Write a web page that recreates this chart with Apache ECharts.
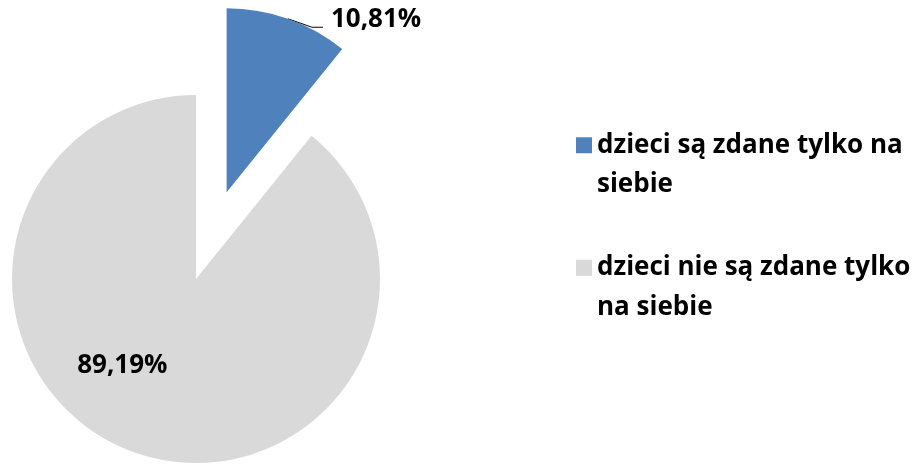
<!DOCTYPE html>
<html>
<head>
<meta charset="utf-8">
<script src="https://cdn.jsdelivr.net/npm/echarts@6/dist/echarts.min.js"></script>
<style>
  html, body { margin: 0; padding: 0; background: #fff; }
  #chart { width: 920px; height: 464px; }
</style>
</head>
<body>
<div id="chart"></div>
<script>
const categories = ["dzieci są zdane tylko na siebie", "dzieci nie są zdane tylko na siebie"];
const legendLabels = ["dzieci są zdane tylko na\nsiebie", "dzieci nie są zdane tylko\nna siebie"];
const values = [10.81, 89.19];
const colors = ["#4F81BD", "#D9D9D9"];

const font = "'Open Sans', sans-serif";
const chart = echarts.init(document.getElementById("chart"));

chart.setOption({
  animation: false,
  legend: {
    orient: "vertical",
    left: 571,
    top: 81,
    icon: "rect",
    itemWidth: 16,
    itemHeight: 16,
    itemGap: 4,
    selectedMode: false,
    // leading blank line keeps the marker level with the first text line
    formatter: (name) => "\n" + legendLabels[categories.indexOf(name)],
    textStyle: {
      fontFamily: font,
      fontWeight: "bold",
      fontSize: 26,
      color: "#000",
      lineHeight: 39.5
    },
    data: categories
  },
  series: [{
    type: "pie",
    center: [196, 279],
    radius: 184,
    startAngle: 90,
    clockwise: true,
    selectedMode: "single",
    selectedOffset: 92,
    emphasis: { disabled: true },
    data: categories.map((name, i) => ({
      name,
      value: values[i],
      selected: i === 0,
      itemStyle: { color: colors[i] },
      label: { position: i === 0 ? "outside" : "inside" },
      labelLine: { show: i === 0 }
    })),
    label: {
      formatter: (p) => p.value.toFixed(2).replace(".", ",") + "%",
      fontFamily: font,
      fontWeight: "bold",
      fontSize: 26,
      color: "#000"
    },
    labelLine: {
      length: -9,
      length2: 38,
      lineStyle: { color: "#000", width: 1 }
    },
    labelLayout: (params) => params.dataIndex === 1
      ? { dx: -42, dy: -3 }
      : { dx: 3, dy: -8 }
  }]
});
</script>
</body>
</html>
